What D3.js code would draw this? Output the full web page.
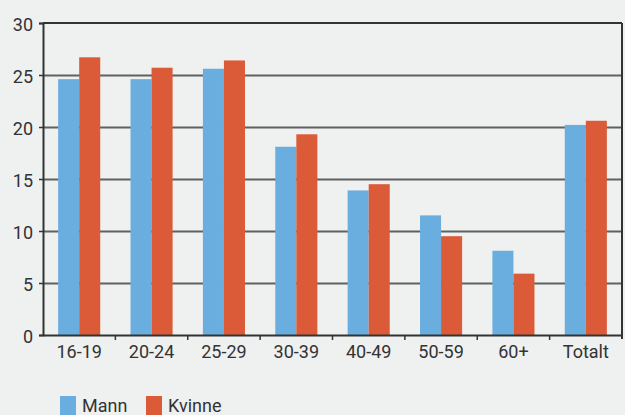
<!DOCTYPE html>
<html><head><meta charset="utf-8">
<script src="https://cdn.jsdelivr.net/npm/d3@7"></script>
<style>
html,body{margin:0;padding:0;background:#eff0f0;}
svg{display:block;}
text{font-family:Roboto, "DejaVu Sans", sans-serif;fill:#333;}
</style></head><body>
<svg id="chart" width="625" height="415"></svg>
<script>
const categories = ["16-19","20-24","25-29","30-39","40-49","50-59","60+","Totalt"];
const mann   = [24.6, 24.6, 25.6, 18.1, 13.9, 11.5, 8.1, 20.2];
const kvinne = [26.7, 25.7, 26.4, 19.3, 14.5, 9.5, 5.9, 20.6];
const seriesNames = ["Mann","Kvinne"];
const colors = ["#6aaee0","#db5a37"];
const yTicks = [0,5,10,15,20,25,30];

const svg = d3.select("#chart");
const m = {left:43, right:3, top:23, bottom:80};
const W = 625, H = 415;
const x = d3.scaleBand().domain(categories).range([m.left, W - m.right]).paddingInner(0).paddingOuter(0);
const y = d3.scaleLinear().domain([0,30]).range([H - m.bottom, m.top]);
const x1 = d3.scaleBand().domain(seriesNames).range([0, x.bandwidth()]).paddingInner(0).paddingOuter(0.72);

// gridlines
svg.append("g").selectAll("line").data(yTicks.filter(d=>d>0 && d<30)).join("line")
  .attr("x1", m.left).attr("x2", W - m.right)
  .attr("y1", d=>y(d)+0.5).attr("y2", d=>y(d)+0.5)
  .attr("stroke","#606060").attr("stroke-width",2);

// bars
const data = categories.map((c,i)=>({c, vals:[mann[i], kvinne[i]]}));
const g = svg.append("g").selectAll("g").data(data).join("g")
  .attr("transform", d=>`translate(${x(d.c)},0)`);
g.selectAll("rect").data(d=>d.vals.map((v,j)=>({v, s:seriesNames[j], j}))).join("rect")
  .attr("x", d=>x1(d.s)).attr("width", x1.bandwidth())
  .attr("y", d=>y(d.v)).attr("height", d=>y(0)-y(d.v))
  .attr("fill", d=>colors[d.j]);

// frame top and right
svg.append("line").attr("x1",m.left).attr("x2",W-m.right).attr("y1",y(30)).attr("y2",y(30))
  .attr("stroke","#333").attr("stroke-width",2);
svg.append("line").attr("x1",W-m.right).attr("x2",W-m.right).attr("y1",y(30)).attr("y2",y(0)+4)
  .attr("stroke","#333").attr("stroke-width",2);

// y axis
const yAxis = svg.append("g").attr("transform",`translate(${m.left},0)`)
  .call(d3.axisLeft(y).tickValues(yTicks).tickSize(4).tickPadding(6));
yAxis.select(".domain").attr("stroke","#333").attr("stroke-width",2);
yAxis.selectAll(".tick line").attr("stroke","#333").attr("stroke-width",1.5);
yAxis.selectAll("text").attr("font-size",18).attr("fill","#333").attr("dy","0.4em");

// x axis
const xAxis = svg.append("g").attr("transform",`translate(0,${y(0)})`)
  .call(d3.axisBottom(x).tickSize(0).tickPadding(10));
xAxis.select(".domain").attr("stroke","#333").attr("stroke-width",2);
xAxis.selectAll("text").attr("font-size",18).attr("fill","#333");
// tick marks at band boundaries
svg.append("g").selectAll("line").data(categories.slice(1)).join("line")
  .attr("x1", d=>x(d)).attr("x2", d=>x(d))
  .attr("y1", y(0)).attr("y2", y(0)+5)
  .attr("stroke","#333").attr("stroke-width",1.5);

// legend
const lg = svg.append("g").selectAll("g").data(seriesNames).join("g")
  .attr("transform", (d,i)=>`translate(${[60,146][i]},396)`);
lg.append("rect").attr("width",16).attr("height",19).attr("fill",(d,i)=>colors[i]);
lg.append("text").attr("x",22).attr("y",16).attr("font-size",18).text(d=>d);
</script>
</body></html>
